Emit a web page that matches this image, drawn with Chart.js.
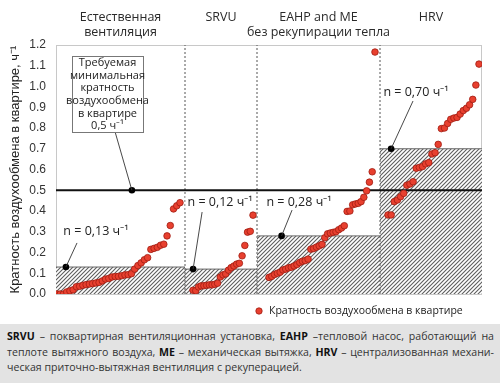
<!DOCTYPE html>
<html><head><meta charset="utf-8">
<script src="https://cdn.jsdelivr.net/npm/chart.js@4"></script>
<style>
html,body{margin:0;padding:0;background:#fff;width:500px;height:383px;overflow:hidden}
#wrap{position:absolute;left:0;top:0;width:500px;height:322px}
#cap{position:absolute;left:0;top:324px;width:500px;height:59px;background:#e3e3e3;font-family:'Open Sans',sans-serif;font-size:10.6px;color:#333;box-sizing:border-box;padding:5px 6px 0 7px;line-height:15.5px}
#cap b{color:#111}
.l{text-align:justify;text-align-last:justify;white-space:nowrap}
.e{text-align:left;white-space:nowrap}
</style></head>
<body>
<div id="wrap"><canvas id="c" width="500" height="322"></canvas></div>
<div id="cap">
<div class="l"><b>SRVU</b> – поквартирная вентиляционная установка, <b>EAHP</b> –тепловой насос, работающий на</div>
<div class="l">теплоте вытяжного воздуха, <b>ME</b> – механическая вытяжка, <b>HRV</b> – централизованная механи-</div>
<div class="e">ческая приточно-вытяжная вентиляция с рекуперацией.</div>
</div>
<script>
// ---- data ----
const sectionNames = [['Естественная','вентиляция'], ['SRVU'], ['EAHP and ME','без рекупирации тепла'], ['HRV']];
const natural = [0.00,0.00,0.00,0.01,0.015,0.02,0.035,0.037,0.042,0.045,0.048,0.05,0.053,0.056,0.063,0.072,0.075,0.082,0.084,0.085,0.088,0.092,0.093,0.098,0.12,0.137,0.15,0.165,0.175,0.215,0.22,0.225,0.235,0.24,0.28,0.33,0.41,0.425,0.44];
const srvu = [0.018,0.016,0.034,0.039,0.04,0.042,0.044,0.044,0.047,0.052,0.082,0.092,0.097,0.115,0.127,0.135,0.144,0.148,0.184,0.234,0.298,0.302,0.38];
const eahp = [0.08,0.085,0.094,0.10,0.105,0.116,0.12,0.126,0.129,0.135,0.142,0.152,0.158,0.161,0.168,0.216,0.219,0.226,0.232,0.239,0.271,0.29,0.294,0.297,0.30,0.31,0.318,0.329,0.398,0.40,0.43,0.434,0.437,0.445,0.466,0.497,0.539,0.589,1.166];
const hrv = [0.381,0.381,0.445,0.453,0.469,0.485,0.524,0.53,0.541,0.606,0.61,0.614,0.627,0.633,0.675,0.681,0.721,0.797,0.80,0.822,0.842,0.848,0.851,0.867,0.884,0.895,0.912,0.938,1.007,1.108];
const medianN = [0.13, 0.12, 0.28, 0.70];
const medianLabels = ['n = 0,13 ч⁻¹', 'n = 0,12 ч⁻¹', 'n = 0,28 ч⁻¹', 'n = 0,70 ч⁻¹'];
const requiredRate = 0.5;
const requiredText = ['Требуемая','минимальная','кратность','воздухообмена','в квартире','0,5 ч⁻¹'];
const yTickLabels = ['0.0','0.1','0.2','0.3','0.4','0.5','0.6','0.7','0.8','0.9','1.0','1.1','1.2'];
const yTitle = 'Кратность воздухообмена в квартире, ч⁻¹';
const legendText = 'Кратность воздухообмена в квартире';

// ---- layout (slot units along x) ----
const X_MAX = 142;
const bounds = [0, 43, 67, 108, X_MAX];
const ptRange = [[0.33,41.33],[45.67,65.67],[71,106.33],[110.67,141]];
const dotX = [3.3, 45.7, 75.2, 111.7];
const reqDotX = 25.3;
const labelPos = [[13.3,0.30],[54.7,0.443],[81,0.443],[120,0.973]];
const labelLineEnd = [[7.0,0.246],[48.7,0.395],[78.7,0.405],[119,0.93]];
const boxRect = [5.33, 29, 1.147, 0.781];
const boxLineStart = [19.7, 0.781];

const series = [natural, srvu, eahp, hrv];
const pts = [];
series.forEach((arr, s) => {
  const [a, b] = ptRange[s];
  arr.forEach((v, i) => pts.push({x: a + i * (b - a) / (arr.length - 1), y: v}));
});
const hatchPts = [];
medianN.forEach((n, s) => { hatchPts.push({x: bounds[s], y: n}); hatchPts.push({x: bounds[s+1], y: n}); });

function hatch(){
  const c=document.createElement('canvas'); c.width=4; c.height=4;
  const g=c.getContext('2d'); g.fillStyle='#fff'; g.fillRect(0,0,4,4);
  g.strokeStyle='#5e5e5e'; g.lineWidth=1.1; g.beginPath();
  g.moveTo(-1,5); g.lineTo(5,-1); g.moveTo(-1,1); g.lineTo(1,-1); g.moveTo(3,5); g.lineTo(5,3);
  g.stroke(); return g.createPattern(c,'repeat');
}

const datasets = [];
datasets.push({type:'line', data: hatchPts, fill:'origin', backgroundColor: hatch(), borderWidth:1,
  segment:{borderColor: ctx => ctx.p0.parsed.x === ctx.p1.parsed.x ? 'rgba(0,0,0,0)' : '#666'},
  pointRadius:0, order:10});
for (let i = 1; i < bounds.length - 1; i++) {
  datasets.push({type:'line', data:[{x:bounds[i],y:0},{x:bounds[i],y:1.2}], borderColor:'#555', borderWidth:1, borderDash:[2,2], pointRadius:0, order:9});
}
datasets.push({type:'line', data:[{x:0,y:requiredRate},{x:X_MAX,y:requiredRate}], borderColor:'#111', borderWidth:2, pointRadius:0, order:8});
datasets.push({type:'scatter', data: pts, backgroundColor:'#e8402f', borderColor:'#a01c12', borderWidth:0.8, pointRadius:3.3, order:2});
const blackDots = medianN.map((n,i)=>({x:dotX[i], y:n}));
blackDots.push({x:reqDotX, y:requiredRate});
datasets.push({type:'scatter', data: blackDots, backgroundColor:'#000', borderColor:'#000', borderWidth:0, pointRadius:3.3, order:1});

const deco = {
  id:'deco',
  beforeDatasetsDraw(chart){
    const {ctx, chartArea:ca} = chart;
    ctx.save(); ctx.strokeStyle='#c8c8c8'; ctx.lineWidth=1;
    ctx.strokeRect(ca.left+0.5, ca.top+0.5, ca.right-ca.left-1, ca.bottom-ca.top);
    ctx.restore();
  },
  afterDatasetsDraw(chart){
    const {ctx, chartArea:ca, scales:{x,y}} = chart;
    ctx.save();
    ctx.strokeStyle='#333'; ctx.lineWidth=0.9;
    medianN.forEach((n,i)=>{
      ctx.beginPath(); ctx.moveTo(x.getPixelForValue(dotX[i]), y.getPixelForValue(n));
      ctx.lineTo(x.getPixelForValue(labelLineEnd[i][0]), y.getPixelForValue(labelLineEnd[i][1])); ctx.stroke();
    });
    ctx.beginPath(); ctx.moveTo(x.getPixelForValue(reqDotX), y.getPixelForValue(requiredRate));
    ctx.lineTo(x.getPixelForValue(boxLineStart[0]), y.getPixelForValue(boxLineStart[1])); ctx.stroke();
    ctx.fillStyle='#222'; ctx.font='12.5px "Open Sans", sans-serif'; ctx.textAlign='center'; ctx.textBaseline='middle';
    medianLabels.forEach((t,i)=>{
      const px=x.getPixelForValue(labelPos[i][0]), py=y.getPixelForValue(labelPos[i][1]);
      const w=ctx.measureText(t).width;
      ctx.fillStyle='#fff'; ctx.fillRect(px-w/2-2, py-8, w+4, 16);
      ctx.fillStyle='#222'; ctx.fillText(t, px, py);
    });
    const bx0=x.getPixelForValue(boxRect[0]), bx1=x.getPixelForValue(boxRect[1]);
    const by0=y.getPixelForValue(boxRect[2]), by1=y.getPixelForValue(boxRect[3]);
    ctx.fillStyle='#fff'; ctx.fillRect(bx0,by0,bx1-bx0,by1-by0);
    ctx.strokeStyle='#777'; ctx.lineWidth=1; ctx.strokeRect(Math.round(bx0)+0.5,Math.round(by0)+0.5,Math.round(bx1-bx0),Math.round(by1-by0));
    ctx.fillStyle='#222'; ctx.font='11px "Open Sans", sans-serif';
    const lh=(by1-by0)/requiredText.length;
    requiredText.forEach((t,i)=>ctx.fillText(t,(bx0+bx1)/2, by0+lh*(i+0.5)+0.5));
    ctx.fillStyle='#2a2a2a'; ctx.font='12.5px "Open Sans", sans-serif';
    sectionNames.forEach((lines,s)=>{
      const cx=x.getPixelForValue((bounds[s]+bounds[s+1])/2);
      lines.forEach((t,i)=>ctx.fillText(t, cx, 17+i*15));
    });
    ctx.save(); ctx.translate(15,(ca.top+ca.bottom)/2); ctx.rotate(-Math.PI/2);
    ctx.font='13px "Liberation Sans", Arial, sans-serif'; ctx.fillStyle='#222'; ctx.fillText(yTitle,0,0); ctx.restore();
    ctx.beginPath(); ctx.arc(259,311,3.2,0,Math.PI*2); ctx.fillStyle='#e8402f'; ctx.fill();
    ctx.strokeStyle='#a01c12'; ctx.lineWidth=0.8; ctx.stroke();
    ctx.fillStyle='#222'; ctx.font='10.5px "Open Sans", sans-serif'; ctx.textAlign='left';
    ctx.fillText(legendText, 269, 311);
    ctx.restore();
  }
};

new Chart(document.getElementById('c'), {
  data:{datasets},
  options:{
    responsive:false, animation:false,
    layout:{padding:{top:45,right:18,bottom:28,left:0}},
    plugins:{legend:{display:false}, tooltip:{enabled:false}},
    scales:{
      x:{type:'linear', min:0, max:X_MAX, display:false},
      y:{type:'linear', min:0, max:1.2, afterFit:s=>{s.width=56;},
        afterBuildTicks:s=>{s.ticks=yTickLabels.map(t=>({value:parseFloat(t)}));},
        grid:{display:false, drawTicks:false}, border:{display:false},
        ticks:{padding:10, color:'#333', font:{family:'"Liberation Sans", Arial, sans-serif', size:12},
          callback:(v,i)=>yTickLabels[i]}}
    }
  },
  plugins:[deco]
});
</script>
</body></html>
